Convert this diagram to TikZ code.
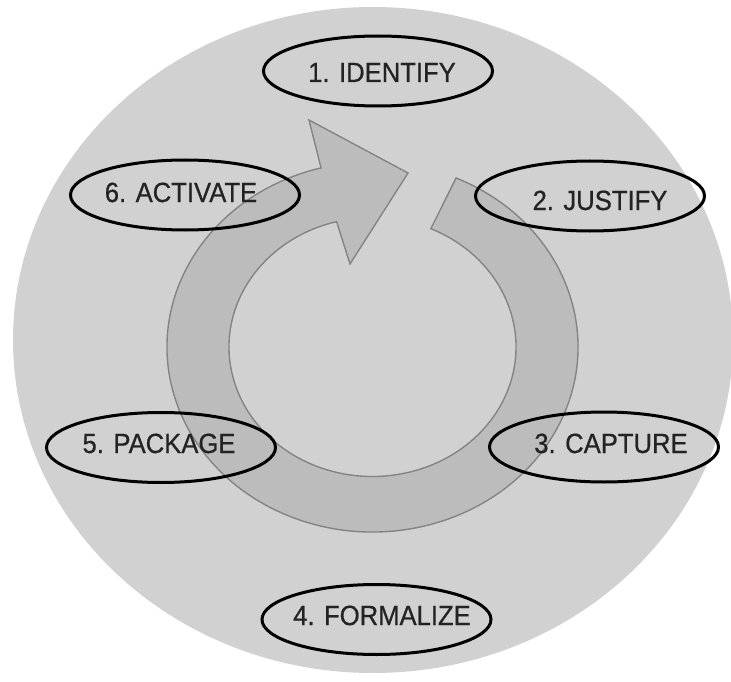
\documentclass[tikz,border=0pt]{standalone}
\usepackage{fontspec}
\setmainfont{Liberation Sans}
\usetikzlibrary{shapes.geometric,calc}
\definecolor{discgray}{RGB}{209,209,209}
\definecolor{ringgray}{RGB}{188,188,188}
\definecolor{ringedge}{RGB}{132,132,132}
\definecolor{labeltext}{RGB}{35,35,35}
\tikzset{
  stage/.style={ellipse, draw=black, line width=3pt, minimum width=229pt, minimum height=70pt, inner sep=0pt},
  stagetext/.style={anchor=base, text=labeltext, inner sep=0pt,
    font=\fontsize{26.7}{30}\selectfont\addfontfeature{FakeBold=0.7}, xscale=0.96, yscale=1.04},
  cyclearrow/.style={fill=ringgray, draw=ringedge, line width=1.4pt, line join=miter}
}
\begin{document}
\begin{tikzpicture}[x=1pt, y=-1pt]
  \useasboundingbox (0,0) rectangle (731,682);
  \fill[white] (0,0) rectangle (731,682);

  % background disc
  \fill[discgray] (373,340) ellipse [x radius=360, y radius=333];

  % circular process arrow (tail at upper right, head at upper left)
  \coordinate (ringc) at (372.5,347);
  \coordinate (headout) at (309,120);
  \coordinate (headtip) at (408,173);
  \coordinate (headin) at (350,264);
  \draw[cyclearrow]
    ($(ringc)+(-66:205.5 and 185)$)
    arc [start angle=-66, end angle=255.5, x radius=205.5, y radius=185]
    -- (headout) -- (headtip) -- (headin)
    -- ($(ringc)+(255.5:143.5 and 129.5)$)
    arc [start angle=255.5, end angle=-66, x radius=143.5, y radius=129.5]
    -- cycle;

  % stage outlines
  \node[stage] (identify)  at (378,71)    {};
  \node[stage] (justify)   at (590,196)   {};
  \node[stage] (capture)   at (604,447)   {};
  \node[stage] (formalize) at (376.5,619.5) {};
  \node[stage] (package)   at (161,447.5) {};
  \node[stage] (activate)  at (185,195)   {};

  % stage labels
  \node[stagetext] (identifyt)  at (382,82)  {1. IDENTIFY};
  \node[stagetext] (justifyt)   at (600,210) {2. JUSTIFY};
  \node[stagetext] (capturet)   at (611,453) {3. CAPTURE};
  \node[stagetext] (formalizet) at (382,625) {4. FORMALIZE};
  \node[stagetext] (packaget)   at (159,453) {5. PACKAGE};
  \node[stagetext] (activatet)  at (181,202) {6. ACTIVATE};
\end{tikzpicture}
\end{document}
